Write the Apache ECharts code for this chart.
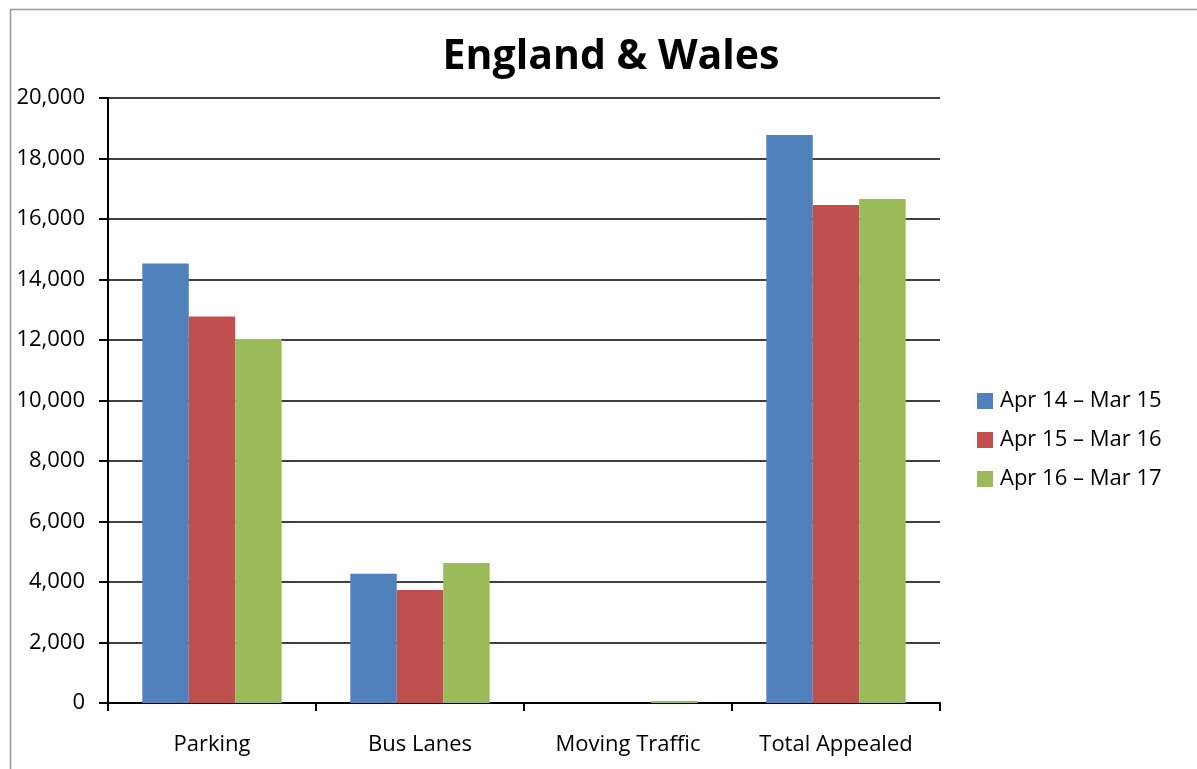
<!DOCTYPE html>
<html>
<head>
<meta charset="utf-8">
<script src="https://cdn.jsdelivr.net/npm/echarts@6/dist/echarts.min.js"></script>
<style>html,body{margin:0;padding:0;background:#fff}#c{width:1197px;height:769px}</style>
</head>
<body>
<div id="c"></div>
<script>
const categories = ["Parking", "Bus Lanes", "Moving Traffic", "Total Appealed"];
const seriesNames = ["Apr 14 \u2013 Mar 15", "Apr 15 \u2013 Mar 16", "Apr 16 \u2013 Mar 17"];
const apr14 = [14530, 4270, 0, 18780];
const apr15 = [12780, 3735, 0, 16465];
const apr16 = [12030, 4630, 65, 16660];
const colors = ["#4F81BD", "#C0504D", "#9BBB59"];
const font = "'Open Sans', sans-serif";

const chart = echarts.init(document.getElementById('c'), null, {renderer: 'canvas'});
const values = [apr14, apr15, apr16];
chart.setOption({
  animation: false,
  backgroundColor: '#fff',
  title: {
    text: 'England & Wales',
    left: 606, top: 32, textAlign: 'center',
    textStyle: {fontFamily: font, fontSize: 41, fontWeight: 'bold', color: '#000'}
  },
  legend: {
    orient: 'vertical', left: 972, top: 381,
    itemWidth: 16, itemHeight: 16, itemGap: 9,
    icon: 'rect',
    textStyle: {fontFamily: font, fontSize: 22, color: '#000', padding: [0,0,0,2], lineHeight: 30},
    data: seriesNames
  },
  graphic: [{
    type: 'rect', silent: true,
    shape: {x: 10.5, y: 9.5, width: 1300, height: 900},
    style: {fill: 'none', stroke: '#999', lineWidth: 1.5}
  }],
  grid: {left: 108, right: 257, top: 98, bottom: 66, containLabel: false},
  xAxis: {
    type: 'category', data: categories,
    axisLine: {lineStyle: {color: '#000', width: 2}},
    axisTick: {show: true, length: 8, lineStyle: {color: '#000', width: 2}},
    axisLabel: {fontFamily: font, fontSize: 22, color: '#000', margin: 31}
  },
  yAxis: {
    type: 'value', min: 0, max: 20000, interval: 2000,
    axisLine: {show: true, lineStyle: {color: '#000', width: 2}},
    axisTick: {show: true, length: 9, lineStyle: {color: '#000', width: 2}},
    splitLine: {lineStyle: {color: '#000', width: 1.5}},
    axisLabel: {fontFamily: font, fontSize: 22, color: '#000', margin: 23,
      formatter: v => v.toLocaleString('en-US')}
  },
  series: seriesNames.map((n, i) => ({
    name: n, type: 'bar', data: values[i],
    itemStyle: {color: colors[i]},
    barGap: '0%', barCategoryGap: '33%'
  }))
});
</script>
</body>
</html>
